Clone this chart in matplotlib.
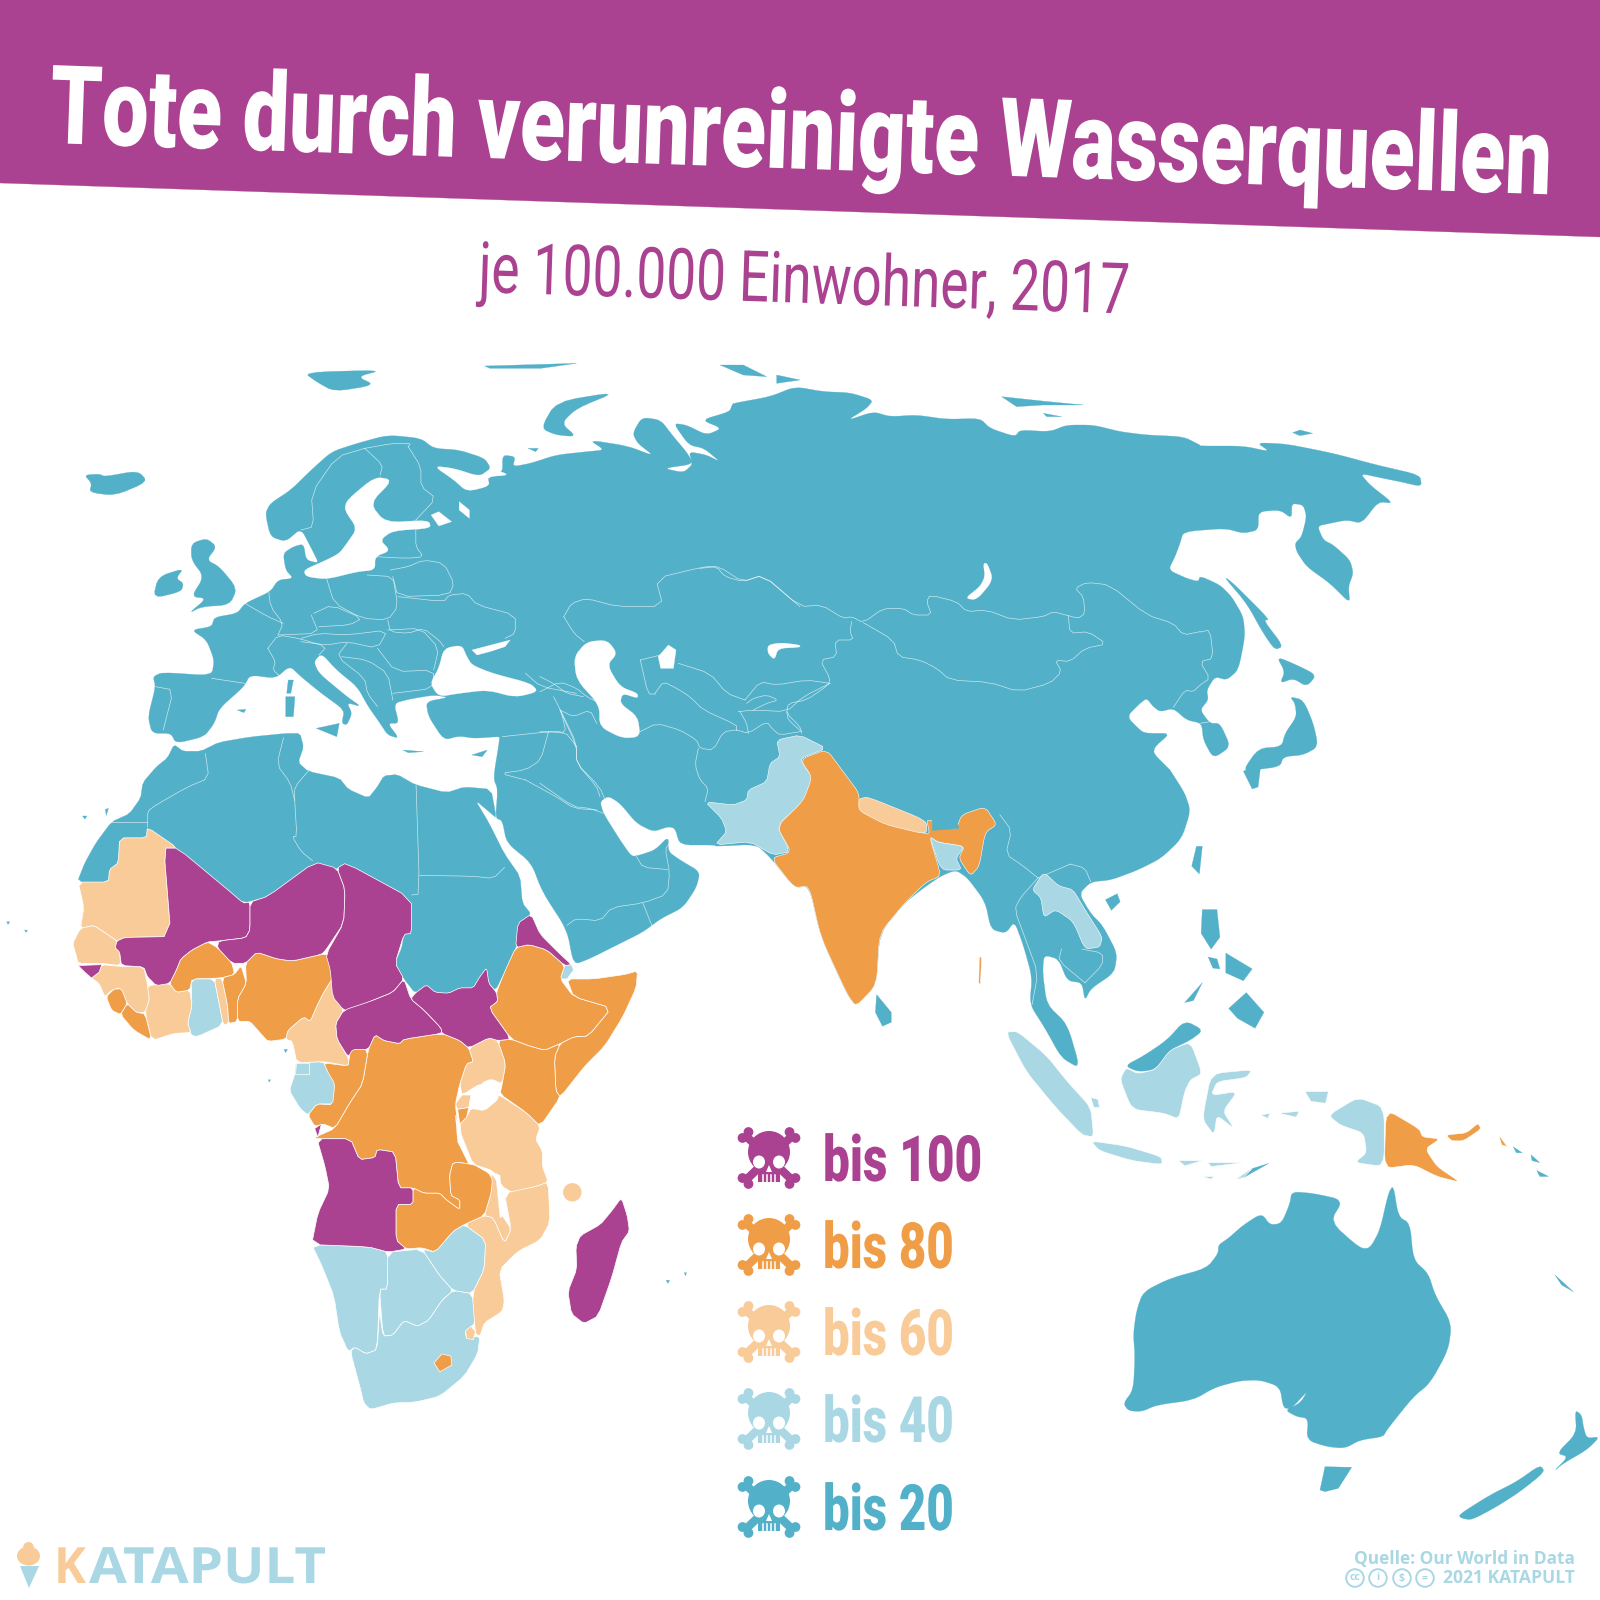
import matplotlib
matplotlib.use("Agg")
import matplotlib.pyplot as plt
from matplotlib.patches import Polygon, Circle, Ellipse, Rectangle
from matplotlib.patheffects import AbstractPathEffect
from matplotlib.transforms import Affine2D
import numpy as np

PURPLE, ORANGE, PEACH, SKY, BLUE = "#AB4291", "#EF9E47", "#F8CB99", "#A9D8E4", "#52B0C8"

# reading frames: origin x, origin y, scale x, scale y
Z2 = (0, 720, 2.24, 2.24)
Z3 = (0, 340, 1.96, 3.0)
Z4 = (680, 700, 1.704, 2.529)
Z5 = (1100, 370, 3.0, 3.0)
Z6 = (700, 350, 3.0, 3.0)
Z7 = (1100, 1170, 3.0, 3.0)
Z9 = (540, 660, 3.0, 3.0)

def px(frame, pts):
    a = np.array(pts, float)
    return np.c_[frame[0] + a[:, 0] / frame[2], frame[1] + a[:, 1] / frame[3]]

def smooth(p, n=2, c=0.2, closed=True):
    p = np.asarray(p, float)
    for _ in range(n):
        if closed:
            q = np.roll(p, -1, axis=0)
            out = np.empty((2 * len(p), 2))
            out[0::2] = (1 - c) * p + c * q
            out[1::2] = c * p + (1 - c) * q
            p = out
        else:
            a, b = p[:-1], p[1:]
            mid = np.empty((2 * len(a), 2))
            mid[0::2] = (1 - c) * a + c * b
            mid[1::2] = c * a + (1 - c) * b
            p = np.vstack([p[:1], mid, p[-1:]])
    return p

# ---------- Eurasian coast ----------
coast_west = [(298,1180),(290,1130),(305,1040),(300,1010),(318,997),(415,1007),(420,960),(405,900),(375,870),(415,860),(420,832),(465,820),(480,790),(530,755),(545,720),(575,715),(560,690),(555,640),(575,620),(595,612),(600,660),(625,670),(612,630),(590,565),(560,605),(530,590),(520,520),(530,490),(570,450),(610,390),(650,335),(700,310),(760,285),(825,295),(850,325),(900,330),(950,355),(962,385),(940,410),(985,400),(985,345),(1010,350),(1005,380),(1040,370),(1090,345),(1150,335),(1185,330),(1155,300),(1230,318),(1282,348),(1250,310),(1240,280),(1258,232),(1295,240),(1320,290),(1345,335),(1360,372),(1300,385),(1340,398),(1358,372),(1350,335),(1385,345),(1412,366),(1380,325),(1350,315),(1320,250),(1345,255),(1385,285),(1415,265),(1375,240),(1430,215),(1435,195)]
coast_taimyr = [(100,160),(210,140),(285,110),(370,125),(450,128),(520,150),(500,175),(440,212),(520,185),(570,200),(650,195),(740,208),(840,205),(870,235),(945,260),(960,240),(1050,245),(1100,225),(1180,225),(1260,245),(1340,255),(1450,260),(1500,285)]
coast_far_east = [(300,228),(430,228),(510,245),(470,218),(560,222),(700,250),(830,285),(960,315),(965,350),(900,335),(850,325),(780,310),(810,345),(880,400),(835,395),(785,460),(740,450),(690,460),(652,468),(670,510),(700,525),(750,570),(760,610),(745,650),(750,700),(690,640),(620,590),(590,545),(585,520),(605,500),(620,440),(610,405),(575,400),(575,445),(540,420),(475,425),(475,480),(430,490),(375,475),(250,485),(240,520),(225,560),(205,600),(260,625),(295,635),(300,618),(360,645),(395,680),(430,740),(435,800),(415,900),(380,930),(345,920),(320,960),(325,990),(300,1020),(330,1060),(360,1060),(392,1130),(340,1165),(310,1110),(305,1060),(260,1050),(220,1015),(180,1025),(160,1010),(140,985),(120,1000),(80,1040),(125,1085),(145,1090),(210,1090),(165,1130),(160,1150),(210,1200)]
coast_se_asia = [(835,177),(860,235),(870,280),(855,350),(820,400),(780,430),(735,455),(700,460),(680,490),(700,540),(720,570),(745,640),(740,690),(700,730),(690,760),(685,715),(660,710),(645,655),(620,645),(618,690),(625,770),(660,820),(682,932),(650,905),(622,830),(596,770),(600,700),(585,620),(570,560),(555,590),(530,580),(520,510),(490,450),(470,430),(445,445),(420,470),(385,510),(340,590),(335,720),(300,775),(285,745),(240,600),(220,470),(195,475),(155,400),(130,365),(60,370)]
coast_gulf = [(525,555),(420,555),(405,505),(385,500),(340,515),(290,490),(240,430),(205,408),(180,425),(190,460),(240,540),(275,590),(300,585),(345,570),(385,530),(385,575),(420,600)]
coast_arabia = [(1568,340),(1560,375),(1530,420),(1480,445),(1440,475),(1380,505),(1320,535),(1285,548),(1270,470),(1215,385),(1190,320),(1135,275),(1125,225),(1110,220),(1115,155),(1105,130),(1120,39)]
coast_med = [(975,1190),(930,1195),(900,1188),(870,1200),(840,1130),(835,1085),(880,1072),(850,1065),(800,1078),(772,1090),(782,1150),(760,1150),(782,1195),(760,1185),(745,1150),(722,1100),(700,1040),(660,990),(630,940),(615,965),(625,1000),(680,1070),(708,1100),(680,1088),(690,1120),(680,1155),(670,1150),(675,1110),(630,1060),(590,1010),(568,978),(540,1015),(490,1005),(478,1040),(430,1105),(420,1150),(400,1190),(345,1210),(335,1180)]

# ---------- inner waters ----------
water_z3 = [
 [(870,925),(905,915),(915,950),(925,975),(965,1000),(1040,1030),(1055,1055),(1010,1072),(955,1050),(900,1060),(860,1070),(843,1030),(860,985)],
 [(925,930),(1000,900),(990,920),(960,935),(935,945)],
 [(1125,950),(1150,905),(1190,900),(1210,940),(1190,975),(1215,1040),(1250,1060),(1250,1075),(1220,1060),(1215,1090),(1250,1130),(1255,1190),(1220,1195),(1175,1160),(1175,1095),(1130,1020)],
 [(1290,950),(1310,915),(1325,930),(1320,985),(1295,985)],
 [(735,410),(770,420),(725,490),(755,548),(840,540),(845,565),(770,572),(745,600),(765,632),(735,650),(735,690),(700,695),(640,718),(600,710),(595,690),(640,660),(665,640),(680,610),(700,565),(675,510),(680,480)],
 [(845,525),(860,515),(885,545),(860,558)],
 [(900,485),(920,510),(920,535),(900,510)],
 [(850,378),(890,385),(940,410),(962,385),(1000,405),(955,410),(960,438),(915,455),(890,420)],
 [(1505,915),(1530,908),(1568,915),(1568,922),(1525,925),(1518,960),(1505,940)],
]
water_z6 = [[(850,640),(862,640),(880,690),(830,750),(795,745),(840,710),(855,680)]]

# ---------- islands, blue ----------
isles_z3 = [
 [(165,405),(195,402),(205,410),(270,392),(290,425),(225,467),(175,457),(180,430)],
 [(375,610),(405,595),(425,620),(405,660),(430,680),(465,745),(450,795),(395,800),(370,820),(405,775),(375,770),(400,710),(375,660)],
 [(310,710),(360,685),(345,715),(360,730),(355,755),(300,775)],
 [(595,97),(750,90),(700,110),(735,135),(655,155),(620,125)],
 [(1060,265),(1090,185),(1210,155),(1130,205),(1100,250),(1130,290),(1090,285)],
 [(950,78),(1130,70),(1060,85),(960,85)],
 [(620,1165),(665,1150),(660,1190)],
 [(560,1070),(578,1070),(575,1130),(560,1130)],
 [(565,1020),(575,1020),(570,1060),(562,1060)],
 [(790,1230),(830,1235),(800,1238)],
 [(925,1245),(955,1230),(945,1250)],
 [(465,1110),(482,1108),(478,1118)],
 [(1035,325),(1055,325),(1050,335)],
]
isles_z6 = [
 [(60,45),(130,45),(200,80),(130,75)],
 [(230,75),(300,90),(230,100)],
 [(905,140),(1045,155),(1150,165),(1030,165),(950,170)],
 [(1030,190),(1085,200),(1040,200)],
]
isles_z5 = [
 [(578,188),(600,180),(638,190),(600,197)],
 [(370,618),(400,640),(510,750),(490,750),(550,828),(525,840),(490,790),(440,700)],
 [(530,860),(590,885),(650,915),(620,950),(580,925),(540,940),(555,905)],
 [(570,980),(610,990),(640,1060),(655,1130),(610,1155),(550,1160),(540,1190),(460,1200),(430,1200),(475,1135),(545,1130),(555,1090),(590,1040),(585,1000)],
]
isles_z4 = [
 [(960,180),(990,160),(985,220),(975,225)],
 [(880,370),(890,370),(885,440),(872,420)],
 [(725,505),(745,490),(750,510),(735,532)],
 [(335,745),(360,790),(360,815),(345,825),(333,790)],
 [(890,530),(915,530),(920,600),(905,630),(888,590)],
 [(935,780),(965,740),(995,790),(980,830),(950,805)],
 [(930,640),(975,680),(960,710),(930,690)],
 [(900,650),(915,655),(920,680),(908,678)],
 [(860,765),(890,715),(875,760)],
 [(860,810),(892,835),(870,860),(835,885),(810,935),(780,940),(758,925),(790,900),(830,860)],
 [(975,1185),(1003,1172),(960,1208),(950,1210)],
 [(1420,1130),(1435,1145),(1425,1145)],
 [(1450,1150),(1465,1170),(1452,1165)],
 [(1460,1190),(1480,1205),(1465,1205)],
]
isles_z7 = [
 [(70,700),(100,660),(105,560),(100,490),(110,420),(130,365),(210,325),(320,295),(355,250),(355,225),(385,205),(430,165),(485,130),(510,165),(545,160),(570,100),(575,65),(640,70),(730,90),(690,155),(780,235),(810,235),(840,180),(865,70),(880,45),(895,140),(930,160),(940,270),(985,310),(1005,375),(1055,460),(1045,540),(990,640),(940,680),(860,780),(850,800),(780,810),(735,835),(680,830),(620,810),(625,745),(590,740),(555,720),(600,700),(625,660),(575,715),(550,715),(540,650),(480,630),(420,632),(345,652),(280,690),(170,705),(125,725),(85,722)],
 [(675,890),(755,892),(715,955),(675,965),(660,960)],
 [(1075,1035),(1170,975),(1250,935),(1320,885),(1335,905),(1260,965),(1190,1010),(1115,1050),(1085,1045)],
 [(1360,905),(1405,860),(1370,850),(1430,790),(1425,720),(1445,735),(1450,770),(1460,805),(1500,800),(1460,840),(1390,880)],
 [(1365,315),(1420,365),(1385,345)],
]

# ---------- Africa ----------
africa_north = [(173,363),(190,320),(215,275),(250,228),(290,210),(315,175),(320,140),(350,105),(375,85),(390,55),(410,70),(450,70),(490,50),(560,38),(640,30),(672,30),(680,60),(668,95),(690,115),(760,130),(780,155),(825,175),(845,150),(860,125),(890,122),(930,145),(1000,163),(1040,150),(1100,155),(1112,220),(1095,205),(1065,180),(1095,230),(1130,300),(1165,350),(1170,410),(1190,435),(1155,510),(1130,565),(1110,605),(1095,590),(1090,555),(1075,575),(1060,600),(1030,600),(1005,612),(975,610),(955,593),(930,612),(905,580),(885,545),(900,510),(905,480),(922,478),(922,400),(775,320),(750,335),(705,318),(600,395),(545,410),(510,380),(365,287),(330,240),(328,264),(268,264),(265,320),(245,335),(243,363)]
africa_purple = [
 [(367,287),(398,287),(510,380),(545,410),(560,408),(560,470),(550,488),(490,495),(465,497),(430,515),(405,535),(395,560),(380,590),(350,595),(330,575),(322,553),(272,550),(268,520),(258,510),(262,495),(280,487),(383,485)],
 [(560,408),(600,395),(705,318),(755,332),(773,380),(770,455),(730,515),(720,525),(655,540),(620,535),(575,520),(550,545),(520,545),(487,510),(490,495),(550,488),(560,470)],
 [(755,332),(775,320),(922,400),(922,478),(905,480),(885,545),(905,580),(880,610),(830,630),(790,650),(770,650),(745,620),(740,560),(730,525),(770,455),(773,380)],
 [(175,550),(228,548),(222,565),(205,578),(190,565)],
 [(770,650),(830,630),(880,610),(905,580),(920,625),(950,650),(988,690),(990,702),(905,715),(895,725),(860,718),(840,705),(825,738),(790,738),(780,755),(755,715),(752,680)],
 [(920,625),(930,612),(955,593),(975,610),(1005,612),(1030,600),(1060,600),(1075,575),(1090,555),(1095,590),(1112,610),(1115,630),(1095,645),(1145,715),(1115,718),(1095,712),(1050,735),(1030,718),(990,702),(988,690),(950,650)],
 [(1190,435),(1210,480),(1250,520),(1280,548),(1265,550),(1225,515),(1185,503),(1155,510),(1160,455)],
 [(705,915),(720,905),(712,935)],
 [(710,938),(785,938),(805,985),(840,980),(845,962),(885,968),(893,1048),(925,1048),(925,1085),(887,1085),(887,1165),(910,1185),(870,1192),(825,1180),(698,1175),(712,1105),(738,1050),(728,1000)],
 [(1392,1070),(1405,1110),(1410,1145),(1392,1170),(1370,1250),(1340,1335),(1308,1352),(1280,1330),(1272,1280),(1292,1230),(1290,1180),(1300,1155),(1345,1130),(1370,1100)],
]
africa_orange = [
 [(465,497),(487,510),(520,545),(525,570),(495,578),(430,580),(425,605),(395,610),(380,590),(395,560),(405,535),(430,515)],
 [(238,620),(255,603),(272,602),(285,635),(270,660),(250,650)],
 [(270,660),(285,635),(305,655),(325,658),(340,718),(300,695)],
 [(497,578),(525,570),(540,550),(552,590),(532,625),(532,675),(512,680),(510,640)],
 [(550,545),(575,520),(620,535),(655,540),(720,525),(735,525),(750,570),(725,610),(710,640),(695,675),(680,665),(645,695),(640,715),(600,720),(582,700),(560,675),(532,675),(532,625),(552,590)],
 [(1155,510),(1185,503),(1225,515),(1265,550),(1255,580),(1285,620),(1370,645),(1318,708),(1285,710),(1255,725),(1220,740),(1185,730),(1145,715),(1095,645),(1115,630),(1112,610),(1130,565)],
 [(1270,580),(1330,580),(1400,570),(1428,562),(1425,600),(1395,665),(1355,730),(1310,775),(1255,845),(1245,830),(1242,755),(1255,725),(1285,710),(1318,708),(1370,645),(1285,620)],
 [(1115,718),(1145,715),(1185,730),(1220,740),(1255,725),(1242,755),(1245,830),(1255,845),(1210,910),(1180,880),(1120,838),(1125,815),(1133,770)],
 [(1025,872),(1050,868),(1045,890),(1030,905)],
 [(825,738),(840,705),(860,718),(895,725),(905,715),(990,702),(1030,718),(1050,735),(1060,765),(1045,770),(1030,815),(1020,860),(1025,905),(1030,945),(1060,995),(1015,990),(1007,1020),(1010,1065),(1030,1075),(1030,1097),(1000,1075),(985,1060),(950,1060),(925,1048),(893,1048),(885,968),(845,962),(840,980),(805,985),(785,938),(710,938),(705,935),(750,915),(785,855),(812,815)],
 [(785,738),(825,738),(812,815),(785,855),(750,915),(725,905),(705,910),(690,885),(710,860),(745,862),(750,815),(735,790),(725,768),(780,775),(782,760)],
 [(925,1048),(950,1060),(985,1060),(1000,1075),(1030,1097),(1030,1075),(1010,1065),(1007,1020),(1015,990),(1060,995),(1095,1015),(1103,1030),(1100,1060),(1085,1110),(1040,1130),(1015,1145),(975,1192),(945,1182),(910,1185),(887,1165),(887,1085),(925,1085)],
 [(972,1440),(990,1420),(1010,1425),(1012,1445),(985,1460)],
]
africa_peach = [
 [(175,363),(243,363),(245,335),(265,320),(268,264),(328,264),(330,240),(398,287),(367,287),(383,485),(280,487),(262,495),(240,480),(210,460),(180,467),(188,420)],
 [(180,467),(210,460),(240,480),(262,495),(258,510),(268,520),(270,550),(225,545),(175,545),(170,525),(163,500)],
 [(228,548),(270,552),(322,553),(330,590),(335,625),(325,655),(305,655),(285,635),(270,600),(250,605),(235,620),(222,590),(205,578),(222,565)],
 [(330,595),(380,590),(395,610),(425,605),(430,640),(420,680),(428,700),(390,702),(340,718),(325,655),(335,625)],
 [(480,580),(497,578),(510,640),(512,680),(500,683),(490,630)],
 [(735,525),(745,540),(755,570),(772,600),(745,605),(770,650),(752,680),(755,715),(782,760),(780,775),(725,765),(665,768),(655,720),(640,715),(645,695),(680,665),(695,675),(710,640),(725,610),(750,570)],
 [(1050,735),(1095,712),(1115,718),(1133,770),(1125,815),(1075,815),(1035,840),(1030,815),(1045,770),(1060,765)],
 [(1020,860),(1035,840),(1055,840),(1050,868),(1025,872)],
 [(1115,838),(1180,880),(1210,910),(1200,940),(1215,965),(1215,1000),(1228,1035),(1200,1045),(1150,1060),(1125,1045),(1105,1010),(1060,995),(1035,945),(1030,905),(1045,890),(1055,870),(1085,875),(1115,850)],
 [(1040,1130),(1085,1110),(1105,1115),(1130,1172),(1145,1140),(1130,1060),(1200,1045),(1228,1035),(1232,1125),(1210,1165),(1160,1190),(1118,1232),(1130,1300),(1125,1325),(1085,1350),(1075,1380),(1065,1375),(1058,1285),(1085,1230),(1088,1165)],
 [(1100,1015),(1115,1035),(1125,1110),(1145,1140),(1130,1172),(1105,1115),(1085,1110),(1100,1060)],
 [(1043,1368),(1055,1358),(1065,1370),(1060,1388),(1045,1385)],
]
africa_sky = [
 [(172,525),(225,522),(225,530),(172,535)],
 [(428,580),(480,580),(490,630),(500,683),(440,710),(428,705),(420,680),(430,640)],
 [(1265,550),(1280,548),(1285,560),(1270,580),(1255,580)],
 [(662,768),(725,765),(735,790),(750,790),(750,860),(710,860),(690,885),(672,870),(648,830),(660,795)],
 [(662,768),(692,768),(692,793),(660,793)],
 [(1015,1145),(1040,1130),(1088,1165),(1085,1230),(1058,1285),(1015,1278),(985,1245),(945,1185),(975,1192)],
 [(698,1175),(825,1180),(870,1192),(868,1275),(850,1275),(845,1410),(820,1420),(795,1405),(780,1415),(760,1370),(748,1290),(720,1220)],
 [(868,1192),(945,1185),(985,1245),(1015,1278),(990,1300),(960,1345),(935,1358),(905,1345),(880,1378),(858,1380),(850,1275),(868,1275)],
 [(845,1410),(850,1325),(858,1380),(880,1378),(905,1345),(935,1358),(960,1345),(990,1300),(1015,1278),(1058,1285),(1065,1350),(1042,1370),(1045,1385),(1075,1380),(1070,1420),(1040,1470),(985,1515),(930,1528),(880,1530),(830,1545),(815,1530),(808,1500),(785,1415),(795,1405),(820,1420)],
]
lakes_z2 = [
 [(1075,815),(1100,803),(1125,815),(1115,850),(1085,875),(1068,860)],
 [(1020,885),(1030,920),(1060,995),(1050,995),(1025,945)],
 [(1110,1015),(1120,1020),(1130,1110),(1120,1115)],
]
specks_z2 = [[(185,215),(195,215),(190,222)],[(236,200),(243,198),(238,214)],[(1492,1255),(1500,1255),(1496,1262)],[(1533,1238),(1538,1238),(1535,1245)],[(15,452),(22,452),(18,458)],[(55,470),(62,472),(58,476)],[(636,738),(644,738),(640,745)],[(601,806),(606,806),(603,811)]]

# ---------- South Asia and Pacific by class ----------
pakistan_z9 = [(495,425),(580,435),(620,420),(625,390),(680,365),(690,310),(720,290),(710,240),(780,225),(860,265),(780,295),(800,330),(825,355),(800,420),(710,495),(750,575),(700,585),(630,545),(525,555),(560,515),(545,475)]
asia_orange = [
 [(205,150),(250,125),(280,185),(305,235),(305,280),(420,340),(425,335),(420,300),(470,330),(480,290),(520,270),(540,315),(520,335),(510,420),(495,445),(475,400),(485,370),(440,360),(425,345),(445,445),(420,460),(385,510),(340,590),(335,720),(300,775),(285,745),(240,600),(220,470),(195,475),(155,400),(190,385),(165,320),(210,255),(225,195)],
 [(1203,1035),(1260,1085),(1265,1105),(1295,1110),(1270,1135),(1290,1180),(1330,1220),(1290,1205),(1250,1175),(1200,1185)],
 [(1305,1100),(1340,1095),(1360,1070),(1365,1085),(1335,1115),(1315,1115)],
 [(1395,1100),(1410,1130),(1400,1125)],
 [(510,650),(514,650),(512,720),(509,715)],
]
asia_peach = [[(305,250),(320,245),(420,305),(420,340),(350,315),(305,280)]]
asia_sky = [
 [(425,345),(440,360),(485,370),(470,400),(480,430),(445,430)],
 [(620,435),(645,470),(670,480),(690,530),(720,600),(715,625),(690,630),(670,560),(640,530),(620,550),(615,500),(600,480)],
 [(870,865),(890,945),(870,960),(860,990),(850,1060),(825,1045),(770,1035),(750,960),(760,930),(780,945),(810,935),(835,885)],
 [(555,840),(575,838),(625,900),(660,965),(700,1030),(705,1105),(685,1100),(640,1030),(590,940)],
 [(700,1005),(712,1010),(715,1030),(705,1030)],
 [(700,1115),(760,1128),(820,1155),(822,1175),(770,1165),(715,1140)],
 [(850,1165),(890,1165),(860,1178)],
 [(900,1170),(960,1170),(905,1180)],
 [(890,1205),(910,1205),(905,1212)],
 [(905,945),(975,935),(965,955),(915,965),(905,1000),(950,990),(925,1040),(945,1085),(915,1050),(910,1100),(890,1060)],
 [(1065,990),(1105,990),(1100,1020),(1075,1015)],
 [(990,1050),(1005,1045),(1002,1058)],
 [(1020,1045),(1055,1040),(1050,1055)],
 [(1105,1050),(1155,1005),(1200,1030),(1200,1180),(1150,1170),(1170,1145),(1165,1095),(1125,1075)],
 [(950,1210),(975,1185),(960,1208)],
]
bhutan_z4 = [(430,300),(470,295),(475,325),(430,330)]

# ---------- borders inside the blue class ----------
borders_z6 = [
 [(0,655),(50,650),(75,680),(130,695),(190,675),(300,770),(365,765),(430,805),(455,800),(490,818),(550,775),(610,775),(640,795),(695,795),(680,755),(690,735),(770,755),(800,785),(860,780),(940,810),(1030,800),(1060,785),(1105,797),(1135,805),(1155,790),(1150,740),(1125,715),(1160,697),(1230,705),(1340,795),(1420,820),(1450,855),(1500,845)],
 [(490,818),(580,870),(595,920),(660,930),(710,955),(750,990),(870,997),(955,1025),(1050,1000),(1085,965),(1065,930),(1110,935),(1155,895),(1220,882),(1165,845),(1110,850),(1105,797)],
 [(455,815),(450,845),(460,870),(405,870),(410,920),(360,930),(390,985),(385,1005),(320,1050),(265,1060),(260,1090),(300,1130),(305,1150)],
]
borders_z5 = [[(300,786),(330,780),(340,865),(300,875),(330,925),(300,945),(280,965),(255,960),(220,1012)],[(300,1060),(330,1055)]]
borders_z3 = [
 [(715,325),(660,350),(610,460),(615,560),(590,570)],[(715,325),(750,375),(745,405)],[(800,320),(825,380),(825,440),(855,475),(815,540)],[(715,325),(770,310),(805,310),(800,320)],
 [(815,570),(815,620),(830,650),(800,655),(735,650)],[(765,690),(800,680),(830,660),(870,670),(890,730),(880,765),(780,770),(770,710),(720,705)],
 [(640,715),(655,790),(710,835),(760,840),(780,800),(770,710)],[(780,770),(870,785),(880,765),(915,760),(935,795),(1010,825),(1010,880),(990,895)],
 [(760,840),(765,875),(800,880),(830,865),(860,900),(870,920)],[(525,730),(530,800),(555,850),(545,885)],[(545,885),(625,880),(610,825)],
 [(615,820),(650,795),(710,835),(685,855),(625,860)],[(480,790),(525,830),(555,850)],[(590,895),(625,880),(680,885),(760,870),(740,925),(680,905),(640,915),(590,905)],
 [(525,925),(545,885),(585,895),(640,920),(625,945)],[(525,925),(540,965),(535,990),(550,1010)],[(415,1015),(480,1030)],[(305,1040),(340,1050),(320,1170)],
 [(670,950),(720,960),(760,1000),(770,1080)],[(740,925),(775,995),(850,990),(850,1045),(770,1060)],[(680,910),(660,950),(715,1015),(720,1060),(740,1100)],[(760,870),(825,865),(860,925),(850,990)],
 [(1030,1000),(1060,1040),(1130,1060)],[(985,1190),(1075,1175),(1110,1180),(1100,1115),(1085,1070)],[(1075,1175),(1060,1260),(1030,1290),(980,1300),(1030,1320)],
 [(1100,1115),(1130,1210),(1130,1270),(1175,1340),(1190,1395)],[(1030,1320),(1090,1370),(1125,1405),(1170,1410)],[(1105,830),(1125,880),(1145,905)],[(1105,830),(1120,790),(1150,775),(1210,800),(1300,800),(1285,715),(1380,680),(1410,680),(1455,725),(1495,705),(1568,800)],
 [(1255,960),(1270,1062),(1285,1062)],[(1255,960),(1295,945)],
]
borders_z9 = [
 [(300,215),(350,190),(420,210),(470,240),(480,265),(520,270),(550,215),(590,210)],[(475,265),(465,315),(480,360),(505,385),(495,425)],
 [(345,100),(370,65),(410,85),(450,110),(490,150),(590,195),(590,210)],[(415,10),(510,40),(560,100),(615,120)],[(615,120),(660,65),(710,75),(800,60),(870,70)],
 [(595,155),(640,150),(740,155),(790,110),(870,70)],[(620,130),(640,115),(680,105),(715,120),(680,130),(640,150)],[(590,210),(625,220),(680,185),(700,210),(720,225),(780,215)],
 [(600,155),(620,190),(625,220)],[(740,155),(745,180),(785,215)],[(0,95),(60,65),(110,85),(140,110),(170,125)],[(0,50),(40,70),(80,100),(130,110)],[(60,150),(100,170),(150,150),(170,190)],
 [(60,150),(110,260),(110,310),(170,380),(180,410)],[(0,215),(75,215),(110,260)],[(0,370),(100,440),(150,445),(190,460)],
]
borders_z2 = [
 [(460,75),(468,130),(420,150),(350,190),(330,205),(330,240)],[(250,228),(330,228)],[(635,40),(620,100),(650,140),(660,180)],[(690,115),(660,150),(660,180),(665,260),(655,262),(675,295),(700,315)],
 [(932,145),(940,390),(922,392)],[(940,348),(1060,350),(1105,355),(1130,330)],[(1270,460),(1290,445),(1345,450),(1370,420),(1440,410),(1495,390),(1500,340),(1490,290),(1500,275)],[(1440,410),(1460,460)],[(1425,305),(1440,330),(1495,335)],
]
borders_z4 = [[(545,290),(565,330),(555,390),(585,420),(610,450)],[(610,450),(580,500),(570,530),(590,610),(610,690),(600,770)],[(650,630),(645,660),(690,715)],[(685,630),(720,640),(720,670),(690,715)],[(665,415),(690,425),(700,460)],[(610,450),(665,415)]]

# ---------- legend and text ----------
legend_labels = ["bis 100", "bis 80", "bis 60", "bis 40", "bis 20"]
legend_colors = [PURPLE, ORANGE, PEACH, SKY, BLUE]
legend_y = [1158, 1245, 1332, 1419, 1507]
legend_width = [159, 131, 131, 131, 131]
title = "Tote durch verunreinigte Wasserquellen"
subtitle = "je 100.000 Einwohner, 2017"
source = "Quelle: Our World in Data"
copyright_text = "2021 KATAPULT"

fig = plt.figure(figsize=(16, 16), dpi=100)
ax = fig.add_axes([0, 0, 1, 1])
ax.set_xlim(0, 1600); ax.set_ylim(1600, 0); ax.axis("off")

def poly(p, color, edge=None, lw=0.7, z=2, n=2, c=0.2):
    p = np.asarray(p, float)
    if len(p) >= 6 and n:
        p = smooth(p, n, c)
    ax.add_patch(Polygon(p, closed=True, facecolor=color, edgecolor=edge if edge else color, linewidth=lw if edge else 0.2, zorder=z, joinstyle="round"))

class Stretch(AbstractPathEffect):
    """Makes a text taller, across its own baseline, about its anchor."""
    def __init__(self, anchor, angle, sy):
        super().__init__()
        self.anchor, self.angle, self.sy = anchor, angle, sy
    def draw_path(self, renderer, gc, tpath, affine, rgbFace=None):
        ax_, ay_ = self.anchor
        t = (Affine2D().translate(-ax_, -ay_).rotate_deg(-self.angle).scale(1, self.sy)
             .rotate_deg(self.angle).translate(ax_, ay_))
        renderer.draw_path(gc, tpath, affine + t, rgbFace)

def narrow_text(x, y, s, color, size, width, angle=0, family="Roboto", weight="bold", z=6):
    """size is the height wanted in points; the font size is set by the width."""
    t = ax.text(x, y, s, color=color, fontsize=size, family=family, weight=weight,
                rotation=0, rotation_mode="anchor", ha="left", va="baseline", zorder=z)
    r = fig.canvas.get_renderer()
    t.set_fontsize(size * width / t.get_window_extent(r).width)
    t.set_fontsize(t.get_fontsize() * width / t.get_window_extent(r).width)
    t.set_rotation(angle)
    t.set_path_effects([Stretch(ax.transData.transform((x, y)), angle, size / t.get_fontsize())])
    return t

# banner
banner_top = [(0, 0), (1600, 0)]
banner_low = [(1600, 237), (0, 183)]
poly(banner_top + banner_low, PURPLE, n=0)
narrow_text(49, 143, title, "white", 79, 1503, angle=-1.96, weight="black")
narrow_text(478, 292, subtitle, PURPLE, 51, 650, angle=-1.9, weight="normal")

# land
mainland = np.vstack([px(Z3, coast_west), px(Z6, coast_taimyr), px(Z5, coast_far_east), px(Z4, coast_se_asia), px(Z9, coast_gulf), px(Z2, coast_arabia), px(Z3, coast_med)])
poly(mainland, BLUE, n=2, c=0.18)
for fr, group in ((Z3, isles_z3), (Z6, isles_z6), (Z5, isles_z5), (Z4, isles_z4), (Z7, isles_z7)):
    for p in group:
        poly(px(fr, p), BLUE)
poly(px(Z2, africa_north), BLUE, n=1, c=0.15)
for p in specks_z2:
    poly(px(Z2, p), BLUE)
for fr, group in ((Z3, water_z3), (Z6, water_z6)):
    for p in group:
        poly(px(fr, p), "white", z=3)

# borders in the blue class
for fr, group in ((Z6, borders_z6), (Z5, borders_z5), (Z3, borders_z3), (Z9, borders_z9), (Z2, borders_z2), (Z4, borders_z4)):
    for l in group:
        a = smooth(px(fr, l), 1, 0.2, closed=False)
        ax.plot(a[:, 0], a[:, 1], color="white", lw=0.5, alpha=0.7, zorder=4, solid_joinstyle="round")

# coloured classes
for group, col in ((africa_sky, SKY), (africa_peach, PEACH), (africa_orange, ORANGE), (africa_purple, PURPLE)):
    for p in group:
        poly(px(Z2, p), col, edge="white", lw=0.5, z=5, n=1, c=0.15)
poly(px(Z9, pakistan_z9), SKY, edge="white", lw=0.4, z=5, n=1, c=0.15)
for group, col in ((asia_orange, ORANGE), (asia_peach, PEACH), (asia_sky, SKY)):
    for p in group:
        poly(px(Z4, p), col, edge="white", lw=0.4, z=5, n=2, c=0.15)
poly(px(Z4, bhutan_z4), BLUE, z=6, n=0)
for p in lakes_z2:
    poly(px(Z2, p), "white", z=6)
cx, cy = px(Z2, [(1282, 1058)])[0]
ax.add_patch(Circle((cx, cy), 8.5, color=PEACH, zorder=5))

# skull icon
def skull(x, y, col):
    for s in (1, -1):
        ax.plot([x - 22 * s, x + 22 * s], [y - 21, y + 21], color=col, lw=6, solid_capstyle="butt", zorder=6)
        for e in (-1, 1):
            ex, ey = x + e * s * 23.5, y + e * 23
            for b in (-1, 1):
                ax.add_patch(Circle((ex + b * 4.2 * 0.707, ey - b * s * 4.2 * 0.707), 4.9, color=col, lw=0, zorder=6))
    ax.add_patch(Circle((x, y - 6), 21, color=col, zorder=7, lw=0))
    ax.add_patch(Rectangle((x - 11, y), 22, 24, facecolor=col, edgecolor="none", zorder=7))
    for s in (-1, 1):
        ax.add_patch(Ellipse((x + 10 * s, y + 4), 12, 13, color="white", zorder=8, lw=0))
    ax.add_patch(Polygon([(x, y + 7), (x - 3, y + 14), (x + 3, y + 14)], color="white", zorder=8, lw=0))
    for dx in (-6, -2, 2, 6):
        ax.plot([x + dx, x + dx], [y + 17, y + 24], color="white", lw=1.1, zorder=8)

for lab, col, y, w in zip(legend_labels, legend_colors, legend_y, legend_width):
    skull(769, y, col)
    narrow_text(823, y + 23, lab, col, 46, w, weight="black")

# logo
narrow_text(54, 1583, "K", PEACH, 36, 32, family="Open Sans")
narrow_text(89, 1583, "ATAPULT", SKY, 36, 237, family="Open Sans")
ax.add_patch(Ellipse((28.5, 1556), 23, 19, color=PEACH, lw=0))
ax.add_patch(Ellipse((28.5, 1548), 11, 12, color=PEACH, lw=0))
ax.add_patch(Polygon([(20, 1566), (39, 1566), (29, 1588)], color=SKY, lw=0))

# source
ax.text(1575, 1564, source, color=SKY, family="Open Sans", weight="bold", fontsize=12.4, ha="right", va="baseline")
ax.text(1575, 1583, copyright_text, color=SKY, family="Open Sans", weight="bold", fontsize=12.6, ha="right", va="baseline")
for x_, sym in zip((1355, 1378, 1402, 1425), ("cc", "i", "$", "=")):
    ax.add_patch(Circle((x_, 1578), 8.8, facecolor="white", edgecolor=SKY, lw=1.4))
    ax.text(x_, 1578, sym, color=SKY, family="Open Sans", weight="bold", fontsize=7.5, ha="center", va="center")

fig.savefig("out.png", dpi=100, facecolor="white")
